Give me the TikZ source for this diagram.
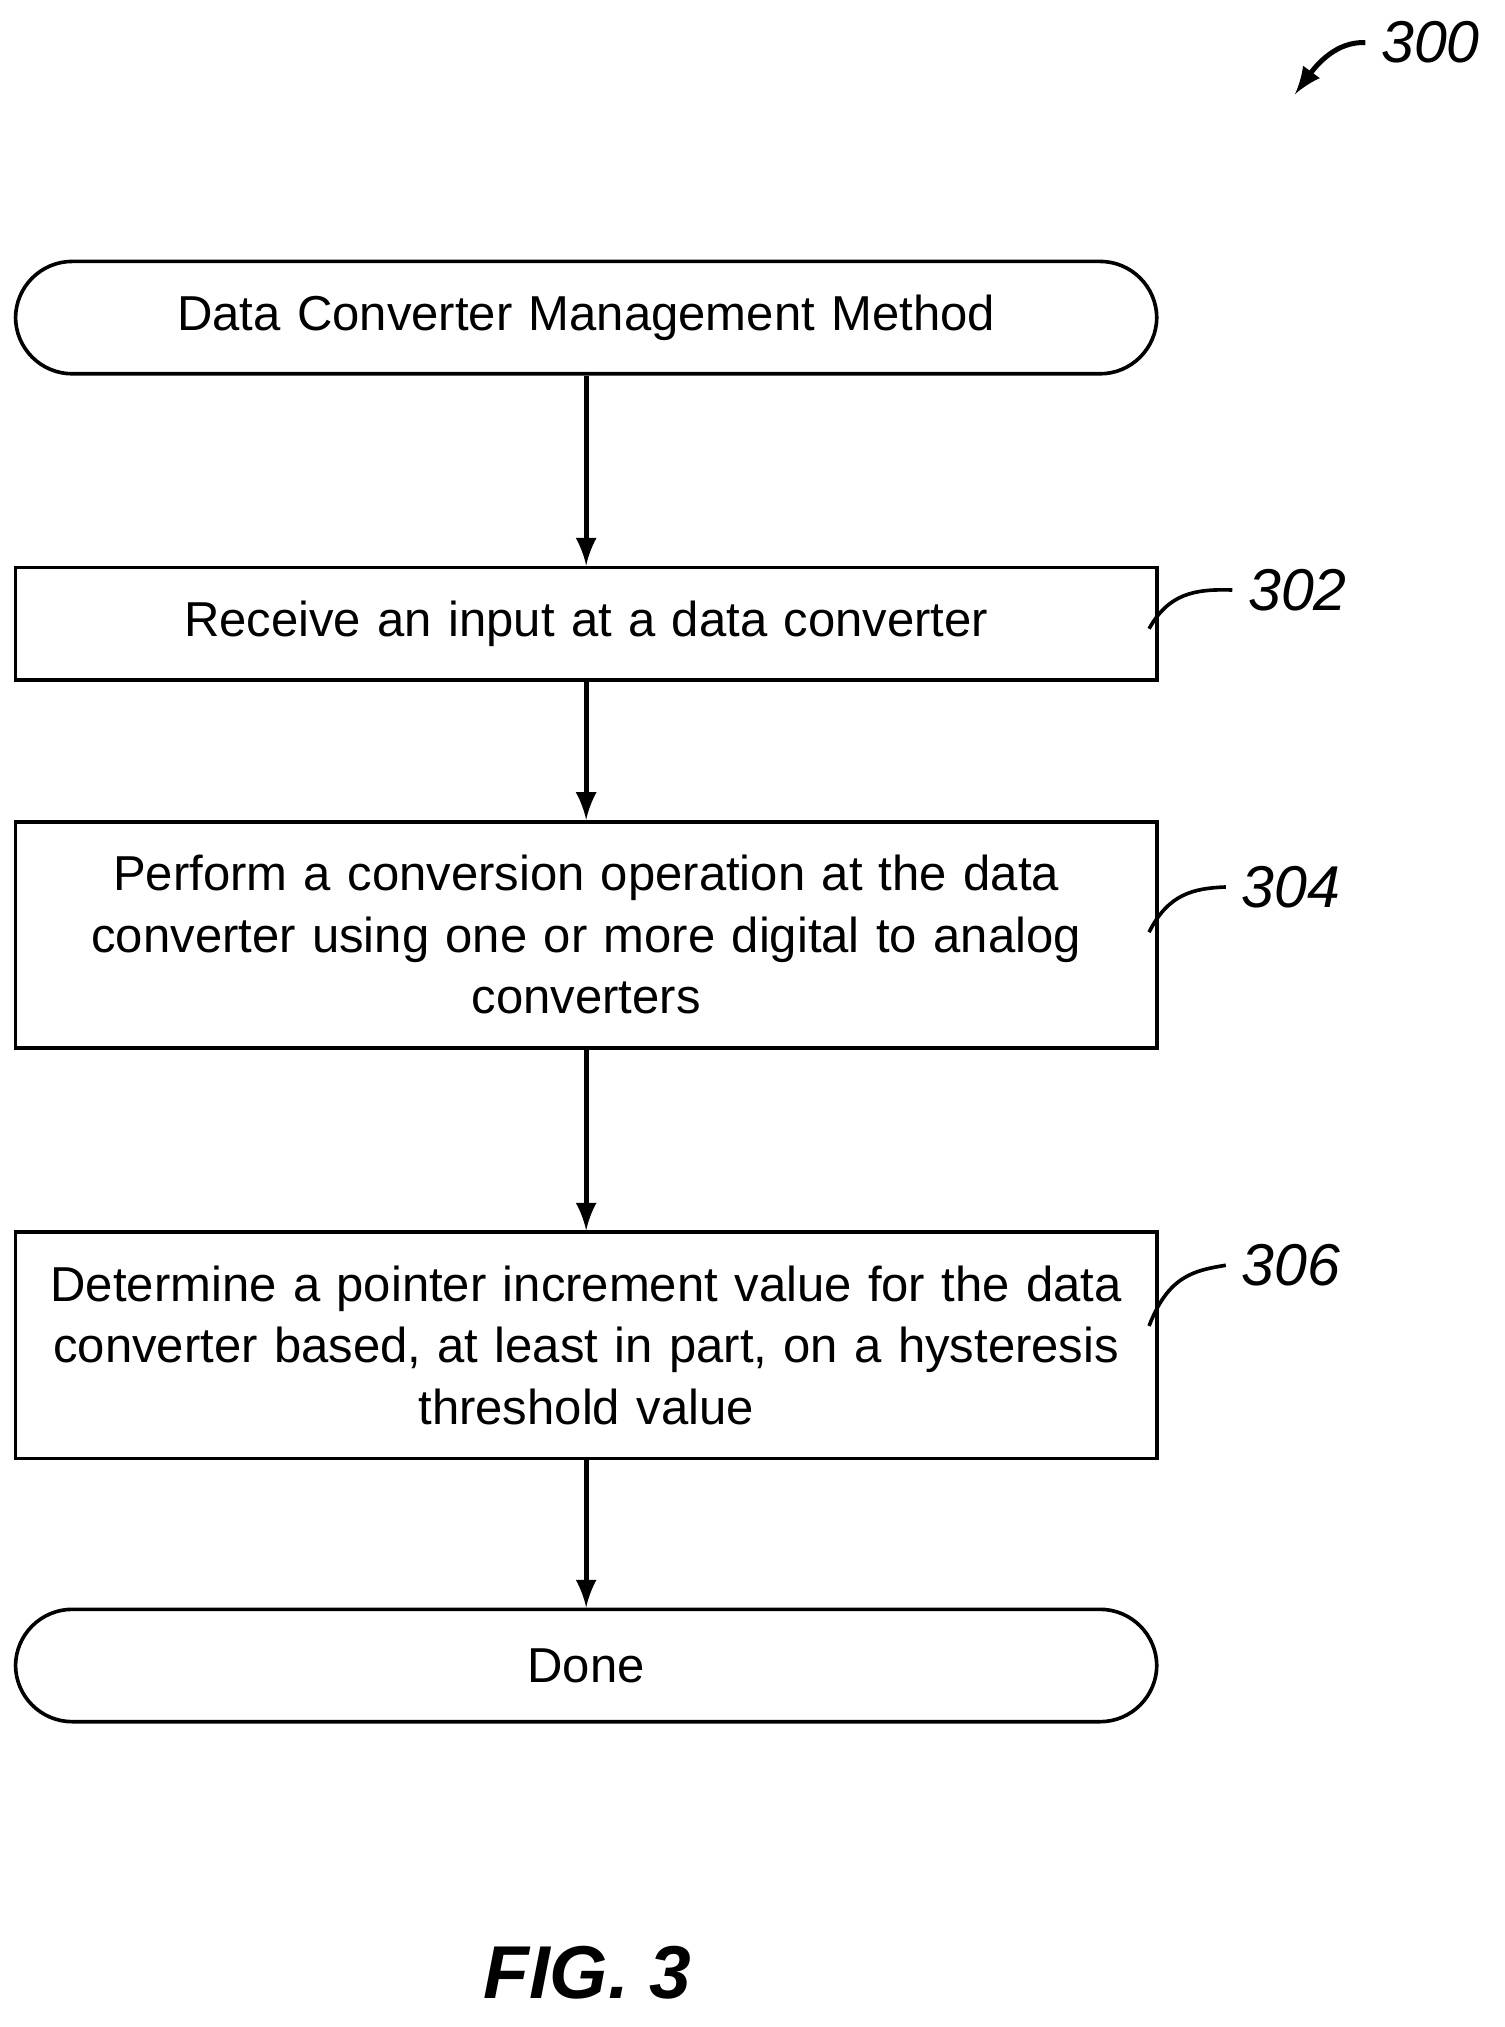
\documentclass[tikz,border=0pt]{standalone}
\usepackage{fontspec}
\setmainfont{Liberation Sans}
\begin{document}
\begin{tikzpicture}[x=0.01cm,y=-0.01cm,
  stepbox/.style={draw, thick, minimum width=8.72cm, text width=8.6cm, align=center, font=\fontsize{10.8}{13.5}\selectfont},
  term/.style={stepbox, rounded corners=0.44cm},
  ref/.style={font=\itshape\fontsize{13}{15}\selectfont},
  flow/.style={->, line width=1.1pt, >=latex}]
  \useasboundingbox (0,0) rectangle (1165,1570);

  %% boxes
  \node[term, minimum height=0.87cm] (start) at (454,246) {Data Converter Management Method};
  \node[stepbox, minimum height=0.87cm] (s302) at (454,483) {Receive an input at a data converter};
  \node[stepbox, minimum height=1.75cm] (s304) at (454,724) {Perform a conversion operation at the data\\ converter using one or more digital to analog\\ converters};
  \node[stepbox, minimum height=1.75cm] (s306) at (454,1042) {Determine a pointer increment value for the data\\ converter based, at least in part, on a hysteresis\\ threshold value};
  \node[term, minimum height=0.87cm] (done) at (454,1290) {Done};

  %% arrows
  \draw[flow] (start) -- (s302);
  \draw[flow] (s302) -- (s304);
  \draw[flow] (s304) -- (s306);
  \draw[flow] (s306) -- (done);

  %% reference numerals
  \node[ref] (n300) at (1108,33) {300};
  \node[ref] (n302) at (1005,457) {302};
  \node[ref] (n304) at (1000,687) {304};
  \node[ref] (n306) at (1000,980) {306};
  \draw[->, line width=1.1pt, >=latex] (n300.west) .. controls (1035,32) and (1020,50) .. (1003,73);
  \draw[thick] (890,487) .. controls (905,460) and (925,456) .. (n302.west);
  \draw[thick] (890,722) .. controls (905,692) and (925,688) .. (n304.west);
  \draw[thick] (890,1027) .. controls (905,988) and (925,984) .. (n306.west);

  \node[font=\bfseries\itshape\fontsize{16.5}{20}\selectfont] (fig) at (455,1528) {FIG. 3};
\end{tikzpicture}
\end{document}
